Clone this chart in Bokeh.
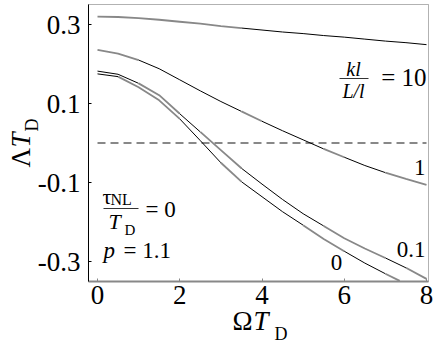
from math import pi
from bokeh.plotting import figure
from bokeh.models import Label, FixedTicker, Range1d, BoxAnnotation
from bokeh.embed import file_html
from bokeh.resources import INLINE

# ---- data ----
omega = [0, 0.5, 1, 1.5, 2, 2.5, 3, 3.5, 4, 4.5, 5, 5.5, 6, 6.5, 7, 7.5, 8]
lam_10 = [0.320, 0.319, 0.316, 0.312, 0.307, 0.302, 0.296, 0.291, 0.286,
          0.281, 0.277, 0.272, 0.268, 0.263, 0.258, 0.254, 0.249]
lam_1 = [0.236, 0.226, 0.210, 0.188, 0.160, 0.132, 0.105, 0.080, 0.055,
         0.031, 0.008, -0.015, -0.036, -0.057, -0.075, -0.091, -0.106]
lam_01 = [0.182, 0.174, 0.151, 0.121, 0.074, 0.028, -0.018, -0.064, -0.104,
          -0.143, -0.179, -0.210, -0.241, -0.267, -0.291, -0.316, -0.344]
omega_0 = [0, 0.5, 1, 1.5, 2, 2.5, 3, 3.5, 4, 4.5, 5, 5.5, 6, 6.5, 7, 7.35]
lam_0 = [0.175, 0.168, 0.141, 0.108, 0.061, 0.006, -0.050, -0.098, -0.136,
         -0.174, -0.208, -0.243, -0.274, -0.304, -0.331, -0.349]
x_ticks = [0, 2, 4, 6, 8]
y_ticks = [-0.3, -0.1, 0.1, 0.3]
x_lim = (-0.219, 8.049)
y_lim = (-0.3506, 0.3506)
zero_x = [0, 8]
zero_y = [0, 0]

# ---- styles ----
GRAY = "#888888"
BLACK = "#000000"
FONT = "Liberation Serif, Times New Roman, DejaVu Serif, serif"
# colour pieces along each curve: (first index, last index, colour)
pieces = {
    "10": [(0, 7, GRAY), (7, 16, BLACK)],
    "1": [(0, 2, GRAY), (2, 7, BLACK), (7, 8, GRAY), (8, 11, BLACK),
          (11, 12, GRAY), (12, 14, BLACK), (14, 16, GRAY)],
    "01": [(0, 2, BLACK), (2, 4, GRAY), (4, 5, BLACK), (5, 7, GRAY),
           (7, 11, BLACK), (11, 14, GRAY), (14, 15, BLACK), (15, 16, GRAY)],
    "0": [(0, 1, BLACK), (1, 4, GRAY), (4, 6, BLACK), (6, 7, GRAY),
          (7, 10, BLACK), (10, 12, GRAY), (12, 14, BLACK), (14, 15, GRAY)],
}

W, H = 436, 350
PX0, PXU = 97.0, 41.125      # canvas x of omega=0, pixels per unit
PY0, PYU = 142.5, 395.0      # canvas y of Lambda=0, pixels per unit


def dx(px):
    return (px - PX0) / PXU


def dy(py):
    return (PY0 - py) / PYU


p = figure(width=W, height=H, output_backend="svg", toolbar_location=None,
           x_range=Range1d(dx(0), dx(W)), y_range=Range1d(dy(H), dy(0)),
           min_border=0, min_border_left=0, min_border_right=0,
           min_border_top=0, min_border_bottom=0)
p.title.visible = False
p.background_fill_color = "white"
p.border_fill_color = "white"
p.outline_line_color = None
p.grid.visible = False

# plot box (top/right edges), under the axes
p.add_layout(BoxAnnotation(left=x_lim[0], right=x_lim[1], bottom=y_lim[0],
                           top=y_lim[1], fill_alpha=0, line_color="black",
                           line_width=1, level="underlay"))

# axes, pinned to the box edges
for ax in (p.xaxis[0], p.yaxis[0]):
    ax.major_label_text_font = FONT
    ax.major_label_text_font_size = "27px"
    ax.major_label_text_color = "black"
    ax.major_tick_in = 3
    ax.major_tick_out = 0
    ax.minor_tick_in = 0
    ax.minor_tick_out = 0
p.xaxis.ticker = FixedTicker(ticks=x_ticks)
p.yaxis.ticker = FixedTicker(ticks=y_ticks)
p.xaxis.major_label_overrides = {t: str(t) for t in x_ticks}
p.yaxis.major_label_overrides = {t: f"{t:.1f}" for t in y_ticks}
p.xaxis.fixed_location = y_lim[0]
p.yaxis.fixed_location = x_lim[0]
p.xaxis.bounds = x_lim
p.yaxis.bounds = y_lim
p.xaxis.axis_line_color = GRAY
p.xaxis.axis_line_width = 2
p.xaxis.major_tick_line_color = GRAY
p.xaxis.major_label_standoff = 5
p.yaxis.axis_line_color = "black"
p.yaxis.major_tick_line_color = "black"
p.yaxis.major_label_standoff = 8

# zero line
p.line(zero_x, zero_y, line_color=GRAY, line_width=2, line_dash="8 5")

# curves
series = {"10": (omega, lam_10), "1": (omega, lam_1),
          "01": (omega, lam_01), "0": (omega_0, lam_0)}
for key, (xs, ys) in series.items():
    for a, b, col in pieces[key]:
        p.line(xs[a:b + 1], ys[a:b + 1], line_color=col,
               line_width=1.8 if col == GRAY else 1.0)


def lab(text, px, base, size, align="left", style="normal", rotated=False):
    """px: start/centre/end along the text, base: baseline position."""
    shift = 0.3375 * size
    if rotated:
        x, y, ang = dx(base - shift), dy(px), pi / 2
    else:
        x, y, ang = dx(px), dy(base - shift), 0
    p.add_layout(Label(x=x, y=y, text=text, text_font=FONT,
                       text_font_size=f"{size}px", text_align=align,
                       text_baseline="middle", text_font_style=style,
                       angle=ang, text_color="black"))


def bar(px0, px1, py):
    p.segment(x0=[dx(px0)], y0=[dy(py)], x1=[dx(px1)], y1=[dy(py)],
              line_color="#333333", line_width=1)


# axis titles
lab("Λ", 167, 30, 27, rotated=True)
lab("T", 147, 30, 27, style="italic", rotated=True)
lab("D", 131, 38, 18, rotated=True)
lab("Ω", 232, 330, 27)
lab("T", 253, 330, 27, style="italic")
lab("D", 274, 340, 18)

# kl/(L/l) annotation
lab("kl", 353, 75, 20, align="center", style="italic")
bar(339, 368, 78)
lab("L/l", 353, 97, 20, align="center", style="italic")
lab("= 10", 426, 85, 25, align="right")

# curve labels
lab("1", 425, 175, 23, align="right")
lab("0.1", 425, 257, 23, align="right")
lab("0", 336, 270, 23, align="center")

# tau_NL / T_D = 0, p = 1.1
lab("τ", 102, 203, 22)
lab("NL", 110, 204, 16)
bar(103, 138, 208)
lab("T", 108, 228, 22, style="italic")
lab("D", 124, 235, 15)
lab("= 0", 145, 217, 23)
lab("p", 103, 258, 23, style="italic")
lab("= 1.1", 123, 258, 23)

open("out.html", "w").write(file_html(p, INLINE))
